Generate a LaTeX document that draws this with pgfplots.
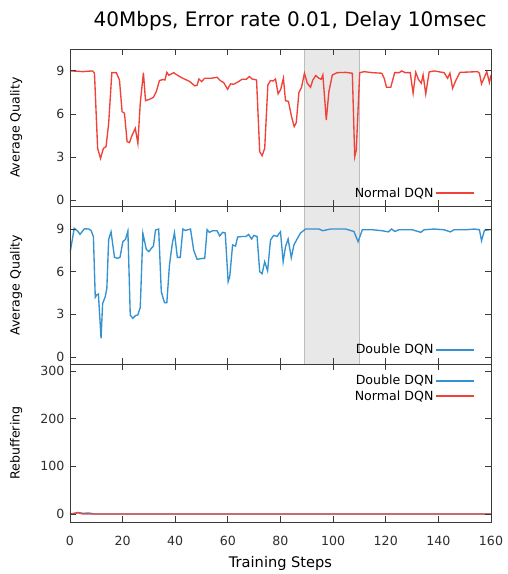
\documentclass[border=0pt]{standalone}
\usepackage{pgfplots}
\pgfplotsset{compat=1.18}
\usepackage{fontspec}
\setmainfont{DejaVu Sans}
\definecolor{NormalRed}{HTML}{F04238}
\definecolor{DoubleBlue}{HTML}{3392CF}
\definecolor{Frame}{HTML}{3A3A3A}
\definecolor{Shade}{HTML}{E8E8E8}
\definecolor{ShadeEdge}{HTML}{BDBDBD}

\pgfplotsset{
  panel/.style={
    scale only axis,
    width=421pt,
    xmin=0, xmax=160,
    xtick={0,20,...,160},
    tick align=inside,
    major tick length=6pt,
    axis line style={Frame, line width=0.9pt},
    every tick/.style={Frame, line width=0.9pt},
    axis on top,
    /pgf/number format/assume math mode=true,
    tick label style={font=\fontsize{12.6}{14}\selectfont, text=Frame!80!black},
    yticklabel style={xshift=-2pt},
    every axis y label/.style={at={(axis description cs:-0.128,0.5)}, rotate=90, anchor=center,
      font=\fontsize{12.6}{14}\selectfont},
    legend plot pos=right,
    legend cell align=right,
    legend image code/.code={\draw[#1] plot coordinates {(0pt,0pt) (19pt,0pt) (38pt,0pt)};},
    legend style={draw=none, fill=none, inner sep=0pt, anchor=east,
      font=\fontsize{12.6}{14}\selectfont},
  },
  shade/.style={fill=Shade, draw=ShadeEdge, line width=0.6pt, forget plot},
}

\begin{document}
\begin{tikzpicture}
\useasboundingbox (0pt,0pt) rectangle (507pt,-574pt);

% top: normal DQN
\begin{axis}[panel, at={(70pt,-49pt)}, anchor=north west, height=157pt,
  ymin=-0.42, ymax=10.53, ytick={0,3,6,9},
  xticklabels={},
  ylabel={Average Quality},
  title={40Mbps, Error rate 0.01, Delay 10msec},
  title style={at={(axis description cs:0.523,1.108)}, anchor=base,
    font=\fontsize{20}{24}\selectfont},
  legend style={at={(axis description cs:0.962,0.083)}},
]
\addplot[shade] coordinates {(89,-0.42) (89,10.53) (110,10.53) (110,-0.42)} -- cycle;
\addplot[NormalRed, line width=1.35pt] coordinates {
(0,9.0)(3,8.98)(5,8.95)(6,8.97)(8.6,9.0)(9.3,8.84)(10.5,3.6)(11.6,2.9)(12.7,3.6)(13.7,3.72)
(14.7,5.35)(15.9,8.88)(17.6,8.88)(18.8,8.37)(19.8,6.16)(20.7,6.05)(21.7,4.07)(22.6,4.0)(23.5,4.47)(24.8,5.0)
(25.8,3.95)(26.7,6.75)(27.9,8.88)(28.7,6.93)(30.2,7.02)(31.7,7.16)(32.8,7.56)(34.0,8.33)(35.3,8.4)(36.1,8.37)
(36.8,8.9)(37.6,8.7)(39.4,8.88)(41.0,8.68)(42.9,8.49)(45.5,8.26)(47.4,7.96)(48.3,8.0)(49.0,8.44)(50,8.26)
(51.2,8.49)(53.7,8.49)(55.9,8.56)(57.1,8.33)(58.4,8.19)(59.9,7.72)(61.0,8.1)(62.2,8.07)(64.1,8.26)(65.4,8.42)
(67,8.42)(68.2,8.61)(69.2,8.44)(70.9,8.37)(72.1,3.37)(73.0,3.09)(74.0,3.6)(75.2,8.02)(76.2,8.33)(77.2,8.3)
(78.1,8.44)(79.1,7.4)(80.1,7.72)(81.1,8.49)(81.9,6.93)(83.0,6.88)(84.2,5.81)(85.2,5.12)(86.0,5.4)(87.0,7.49)
(88.0,7.86)(89.1,8.84)(90.2,8.14)(91.4,7.86)(92.3,8.37)(93.4,8.68)(94.6,8.49)(95.5,8.42)(96.1,8.72)(97.4,5.58)
(98.4,7.56)(99.7,8.72)(101.5,8.88)(104.8,8.9)(107.3,8.84)(108.2,3.02)(108.8,3.48)(110.1,8.88)(111.8,8.95)
(114.9,8.88)(118.5,8.84)(119.4,8.49)(120.3,7.86)(121.9,7.86)(123.4,8.88)(125.1,8.88)(126.1,9.0)(127.4,8.88)
(129.3,8.88)(130.4,7.44)(131.4,8.9)(132.4,8.42)(133.5,8.14)(134.2,8.72)(135.2,7.39)(136.5,8.93)(138.4,9.0)
(142.2,8.88)(143.5,8.49)(144.4,8.84)(145.4,7.79)(146.7,8.37)(148.2,8.9)(154.9,8.95)(155.6,8.84)(156.4,8.1)
(157.5,8.56)(158.4,8.95)(159.4,8.19)(160,8.72)
};
\addlegendentry{Normal DQN}
\end{axis}

% middle: double DQN
\begin{axis}[panel, at={(70pt,-206pt)}, anchor=north west, height=158pt,
  ymin=-0.49, ymax=10.62, ytick={0,3,6,9},
  xticklabels={},
  ylabel={Average Quality},
  legend style={at={(axis description cs:0.962,0.089)}},
]
\addplot[shade] coordinates {(89,-0.49) (89,10.62) (110,10.62) (110,-0.49)} -- cycle;
\addplot[DoubleBlue, line width=1.35pt] coordinates {
(0,7.3)(1.6,9.05)(2.9,8.86)(3.8,8.63)(5.5,9.02)(7.2,9.0)(8.0,8.9)(8.9,8.46)(9.6,4.2)(10.1,4.36)
(10.8,4.43)(11.8,1.31)(12.4,3.77)(13.4,4.24)(14.0,4.83)(14.7,8.28)(15.6,8.81)(16.9,7.01)(18.1,6.94)(19.0,7.01)
(20.1,8.11)(21.1,8.28)(22.0,8.86)(22.9,2.95)(23.9,2.72)(24.8,2.9)(25.8,2.97)(26.7,3.49)(27.7,8.7)(29.0,7.57)
(30.0,7.41)(30.9,7.64)(31.7,7.8)(32.5,8.93)(33.7,9.0)(34.7,4.59)(35.9,3.82)(36.8,3.82)(37.8,6.47)(38.9,8.0)
(39.7,8.74)(40.8,7.01)(41.9,7.01)(42.9,9.0)(43.9,8.9)(44.8,8.95)(45.8,9.0)(47.0,7.52)(48.3,6.87)(50.5,6.94)
(51.2,6.94)(52.1,8.95)(53.0,8.77)(54.2,8.88)(55.9,8.88)(56.9,8.51)(58.0,8.77)(59.0,8.72)(60.1,5.3)(60.7,5.65)
(61.8,7.88)(62.9,7.8)(63.7,8.44)(65.6,8.48)(66.9,8.48)(67.9,8.62)(69.0,8.3)(69.9,8.55)(71.1,8.48)(72.1,6.0)
(73.0,5.86)(74.0,6.7)(75.1,6.06)(76.2,8.23)(77.4,8.55)(78.7,8.48)(80.0,8.81)(81.0,6.7)(81.9,7.76)(82.9,8.3)
(84.1,6.98)(85.1,7.88)(86.3,8.3)(87.6,8.72)(89.5,9.0)(94.6,9.0)(96.1,8.88)(97.7,8.95)(99.0,9.0)(104.8,9.0)
(107.9,8.83)(109.5,8.11)(111.1,8.95)(114.9,8.95)(118.7,8.88)(121.0,8.8)(122.2,9.0)(123.5,8.83)(125.0,8.95)
(130.1,8.95)(133.3,8.77)(134.6,8.95)(138.4,9.0)(142.2,8.95)(144.5,8.8)(146.0,8.95)(150.5,8.95)(153.7,9.0)
(155.6,8.95)(156.4,8.18)(157.5,8.9)(159.4,8.95)(160,8.95)
};
\addlegendentry{Double DQN}
\end{axis}

% bottom: rebuffering
\begin{axis}[panel, at={(70pt,-364pt)}, anchor=north west, height=158pt,
  ymin=-16.8, ymax=314.7, ytick={0,100,200,300},
  xticklabel style={yshift=-11pt},
  ylabel={Rebuffering},
  xlabel={Training Steps},
  every axis x label/.style={at={(axis description cs:0.5,-0.291)}, anchor=base,
    font=\fontsize{14.6}{17}\selectfont},
  legend style={at={(axis description cs:0.962,0.845)}},
]
\addplot[DoubleBlue, line width=1.35pt] coordinates {
(0,0)(2,2)(3,3)(5,1.5)(7,2)(8,1.5)(9,0)(160,0)
};
\addlegendentry{Double DQN}
\addplot[NormalRed, line width=1.35pt] coordinates {
(0,0)(2,1)(3,3)(4,1)(5,0)(160,0)
};
\addlegendentry{Normal DQN}
\end{axis}
\end{tikzpicture}
\end{document}
